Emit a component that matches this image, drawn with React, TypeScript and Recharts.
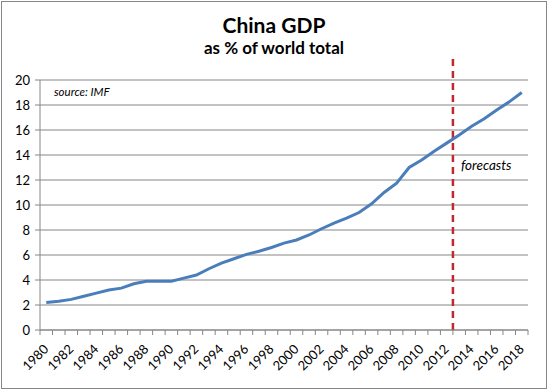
import { CartesianGrid, Line, LineChart, ReferenceLine, XAxis, YAxis } from "recharts";

const years = [
  1980, 1981, 1982, 1983, 1984, 1985, 1986, 1987, 1988, 1989,
  1990, 1991, 1992, 1993, 1994, 1995, 1996, 1997, 1998, 1999,
  2000, 2001, 2002, 2003, 2004, 2005, 2006, 2007, 2008, 2009,
  2010, 2011, 2012, 2013, 2014, 2015, 2016, 2017, 2018,
];

// China share of world GDP (%)
const gdpShare = [
  2.2, 2.3, 2.45, 2.7, 2.95, 3.2, 3.35, 3.7, 3.9, 3.9,
  3.9, 4.15, 4.4, 4.9, 5.35, 5.7, 6.05, 6.3, 6.6, 6.95,
  7.2, 7.6, 8.1, 8.55, 8.95, 9.4, 10.1, 11.0, 11.75, 13.0,
  13.6, 14.3, 14.95, 15.6, 16.3, 16.9, 17.6, 18.25, 19.0,
];

const yTicks = [0, 2, 4, 6, 8, 10, 12, 14, 16, 18, 20];
const labelYears = [1980, 1982, 1984, 1986, 1988, 1990, 1992, 1994, 1996, 1998, 2000, 2002, 2004, 2006, 2008, 2010, 2012, 2014, 2016, 2018];
// tick marks sit between categories, like Excel
const boundaries = [...years.map((y) => y - 0.5), 2018.5];
const forecastStart = 2012.5;
const forecastLineTop = 21.8;

const data = years.map((year, i) => ({ year, value: gdpShare[i] }));

const font = "Lato, 'DejaVu Sans', sans-serif";
const gray = "#868686";

function XTick({ x, y, payload }: any) {
  const v = payload.value as number;
  if (!Number.isInteger(v)) {
    return <line x1={x} x2={x} y1={y} y2={y + 5} stroke={gray} />;
  }
  const px = x + 3;
  const py = y + 20;
  return (
    <text
      x={px}
      y={py}
      transform={`rotate(-45 ${px} ${py})`}
      textAnchor="end"
      fontFamily={font}
      fontSize={13}
      fill="#000"
    >
      {v}
    </text>
  );
}

export default function App() {
  return (
    <div style={{ position: "absolute", left: 0, top: 0, width: 549, height: 390, background: "#fff" }}>
      <style>{`body{margin:0}`}</style>
      <div
        style={{
          position: "absolute",
          left: 1,
          top: 1,
          width: 546,
          height: 388,
          border: `1px solid ${gray}`,
          boxSizing: "border-box",
        }}
      />
      <LineChart width={549} height={390} data={data} margin={{ top: 80, right: 21, bottom: 0, left: 0 }}>
        <CartesianGrid stroke={gray} vertical={false} />
        <XAxis
          dataKey="year"
          type="number"
          domain={[1979.5, 2018.5]}
          ticks={[...boundaries, ...labelYears].sort((a, b) => a - b)}
          interval={0}
          tickSize={0}
          tickMargin={0}
          tickLine={false}
          tick={<XTick />}
          axisLine={{ stroke: gray }}
          height={60}
        />
        <YAxis
          domain={[0, 20]}
          ticks={yTicks}
          interval={0}
          width={40}
          tickSize={5}
          tickMargin={5}
          tickLine={{ stroke: gray }}
          axisLine={{ stroke: gray }}
          tick={{ fill: "#000", fontSize: 13, fontFamily: font }}
        />
        <ReferenceLine
          segment={[
            { x: forecastStart, y: 0 },
            { x: forecastStart, y: forecastLineTop },
          ]}
          ifOverflow="visible"
          stroke="#c0282d"
          strokeWidth={2.5}
          strokeDasharray="7 5"
        />
        <Line
          type="linear"
          dataKey="value"
          stroke="#4a7ebb"
          strokeWidth={3}
          dot={false}
          isAnimationActive={false}
        />
      </LineChart>
      <svg
        width={549}
        height={390}
        style={{ position: "absolute", left: 0, top: 0, pointerEvents: "none" }}
      >
        <text x={274} y={33} textAnchor="middle" fontFamily={font} fontWeight={700} fontSize={21}>
          China GDP
        </text>
        <text x={274} y={54} textAnchor="middle" fontFamily={font} fontWeight={700} fontSize={17}>
          as % of world total
        </text>
        <text x={54} y={96} fontFamily={font} fontStyle="italic" fontSize={11.5}>
          source: IMF
        </text>
        <text x={461} y={170} fontFamily={font} fontStyle="italic" fontSize={13.5}>
          forecasts
        </text>
      </svg>
    </div>
  );
}
